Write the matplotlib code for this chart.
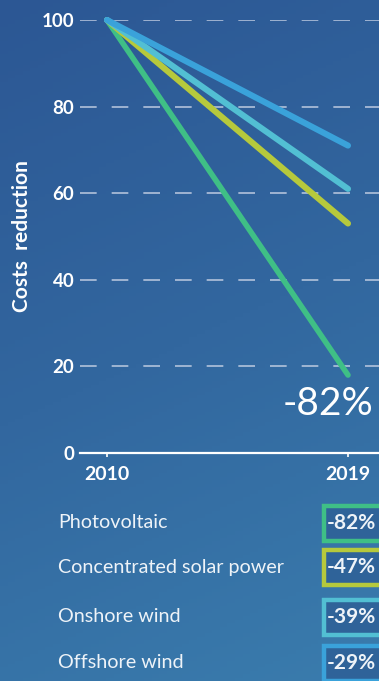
import numpy as np
import matplotlib
matplotlib.use("Agg")
import matplotlib.pyplot as plt
from matplotlib.patches import Rectangle
from matplotlib.colors import LinearSegmentedColormap

# Levelised cost index (2010 = 100) for renewable technologies
technologies = ["Photovoltaic", "Concentrated solar power", "Onshore wind", "Offshore wind"]
reductions = [-82, -47, -39, -29]          # % change 2010 -> 2019
years = [2010, 2019]
start_index = 100
colors = ["#3fbf86", "#b6c93c", "#52bfd3", "#3aa2da"]
y_ticks = [0, 20, 40, 60, 80, 100]
x_ticks = [2010, 2019]

W, H = 379, 681
fig = plt.figure(figsize=(W / 100, H / 100), dpi=100)

# background gradient
bg = fig.add_axes([0, 0, 1, 1], zorder=-10)
bg.set_axis_off()
ny, nx = 200, 50
yy = np.linspace(0, 1, ny)[:, None]
xx = np.linspace(0, 1, nx)[None, :]
grad = 0.8 * yy + 0.2 * xx
cmap = LinearSegmentedColormap.from_list("bgc", ["#2c5794", "#32679f", "#3a7cad"])
bg.imshow(grad, cmap=cmap, aspect="auto", extent=[0, 1, 0, 1], origin="upper")
bg.set_xlim(0, 1)
bg.set_ylim(0, 1)

font = "Lato"

# main chart axes (pixel-placed)
left_px, right_px, top_px, bottom_px = 80, 379, 20, 453
ax = fig.add_axes([left_px / W, 1 - bottom_px / H,
                   (right_px - left_px) / W, (bottom_px - top_px) / H])
ax.patch.set_alpha(0)
ax.set_ylim(0, 100)
x0_px, x1_px = 107, 348
per_year = (x1_px - x0_px) / (years[1] - years[0])
ax.set_xlim(years[0] - (x0_px - left_px) / per_year,
            years[1] + (right_px - x1_px) / per_year)

for s in ["top", "right", "left"]:
    ax.spines[s].set_visible(False)
ax.spines["bottom"].set_color("white")
ax.spines["bottom"].set_linewidth(1.6)

ax.set_yticks(y_ticks)
ax.set_yticklabels([str(v) for v in y_ticks])
ax.set_xticks(x_ticks)
ax.set_xticklabels([str(v) for v in x_ticks])
ax.tick_params(axis="y", length=0, pad=4, labelcolor="white", labelsize=13.5)
ax.tick_params(axis="x", length=3, width=1.2, color="white", direction="out",
               pad=6, labelcolor="white", labelsize=14)
for lab in ax.get_yticklabels() + ax.get_xticklabels():
    lab.set_fontfamily(font)
    lab.set_fontweight("bold")

for v in y_ticks[1:]:
    ax.axhline(v, color="#c9d3e6", lw=1.2, alpha=0.85,
               dashes=(10, 9), zorder=1)

for i, (name, red, col) in enumerate(zip(technologies, reductions, colors)):
    ax.plot(years, [start_index, start_index + red], color=col,
            lw=4.0 if i == 0 else 4.4, solid_capstyle="round",
            zorder=3 + i, clip_on=False)

ax.text(2018.25, start_index + reductions[0] - 6.7, f"{reductions[0]}%",
        ha="center", va="center", color="white", fontsize=28,
        fontfamily=font, fontweight="normal", clip_on=False)

fig.text(22 / W, 1 - 236 / H, "Costs  reduction", rotation=90, ha="center",
         va="center", color="white", fontsize=15, fontfamily=font,
         fontweight="bold")

# legend rows with value boxes
row_y = [523, 567, 617, 663]
for name, red, col, yc in zip(technologies, reductions, colors, row_y):
    fig.text(58 / W, 1 - yc / H, name, ha="left", va="center",
             color="#eef3f8", fontsize=14.2, fontfamily=font)
    bh = 35
    fig.add_artist(Rectangle((324 / W, 1 - (yc + bh / 2) / H), 120 / W, bh / H,
                             transform=fig.transFigure, facecolor="#2f6399",
                             edgecolor=col, lw=3.2))
    fig.text(327 / W, 1 - yc / H, f"{red}%", ha="left", va="center",
             color="#eef3f8", fontsize=15, fontfamily=font, fontweight="bold")

fig.savefig("out.png", dpi=100)
